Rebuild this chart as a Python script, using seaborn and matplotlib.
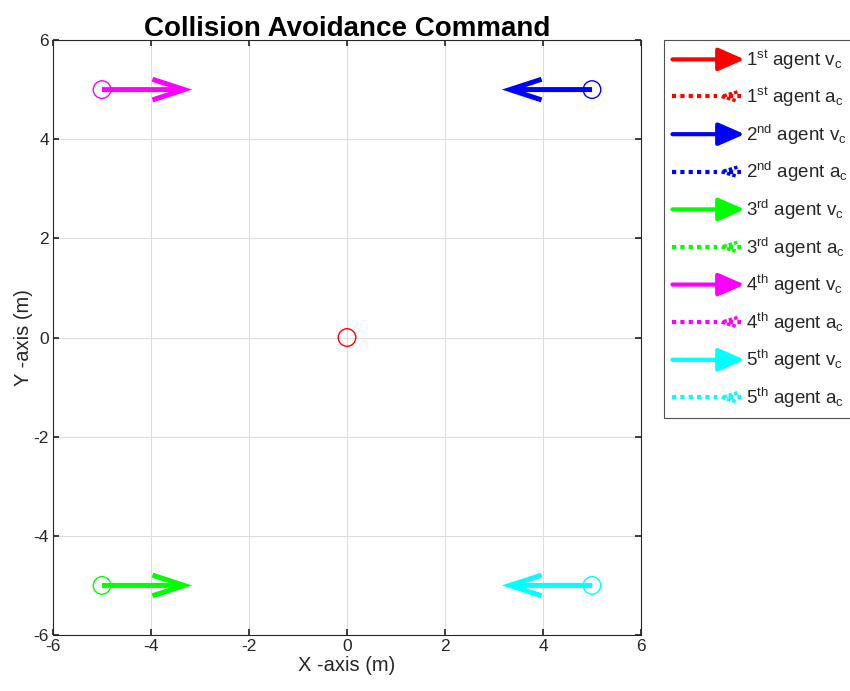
import matplotlib
matplotlib.use("Agg")
import matplotlib.pyplot as plt
import seaborn as sns
import pandas as pd
from matplotlib.lines import Line2D
from matplotlib.patches import FancyArrowPatch
from matplotlib.legend_handler import HandlerBase

# ---- data ----
agents = ["1st", "2nd", "3rd", "4th", "5th"]
ordinals = ["st", "nd", "rd", "th", "th"]
colors = ["#FF0000", "#0000FF", "#00FF00", "#FF00FF", "#00FFFF"]
pos_x = [0, 5, -5, -5, 5]
pos_y = [0, 5, -5, 5, -5]
vc_x = [0, -1.84, 1.84, 1.84, -1.84]
vc_y = [0, 0, 0, 0, 0]
ac_x = [0, 0, 0, 0, 0]
ac_y = [0, 0, 0, 0, 0]
ticks = [-6, -4, -2, 0, 2, 4, 6]

sns.set_theme(style="white")
plt.rcParams["font.family"] = ["Liberation Sans", "DejaVu Sans"]
plt.rcParams["mathtext.fontset"] = "custom"
plt.rcParams["mathtext.rm"] = "Liberation Sans"
plt.rcParams["mathtext.it"] = "Liberation Sans"

fig = plt.figure(figsize=(8.5, 6.91), dpi=100)
ax = fig.add_axes([53/850, 1-635/691, 588/850, 595/691])

df = pd.DataFrame({"x": pos_x, "y": pos_y, "agent": agents})
sns.scatterplot(data=df, x="x", y="y", hue="agent", palette=colors,
                marker="o", s=160, linewidth=1.0,
                legend=False, ax=ax, zorder=3)
coll = ax.collections[0]
coll.set_facecolor("none")
coll.set_edgecolors(colors)

for i in range(5):
    if vc_x[i] != 0 or vc_y[i] != 0:
        ax.annotate("", xy=(pos_x[i] + vc_x[i], pos_y[i] + vc_y[i]),
                    xytext=(pos_x[i], pos_y[i]),
                    arrowprops=dict(arrowstyle="->,head_length=1.9,head_width=0.62",
                                    color=colors[i], lw=3.6,
                                    shrinkA=0, shrinkB=0,
                                    joinstyle="miter", capstyle="butt"),
                    zorder=4)

ax.set_xlim(-6, 6)
ax.set_ylim(-6, 6)
ax.set_xticks(ticks)
ax.set_yticks(ticks)
ax.set_xticklabels([str(t) for t in ticks])
ax.set_yticklabels([str(t) for t in ticks])
ax.grid(True, color="#DDDDDD", linewidth=0.8)
ax.tick_params(direction="in", length=4, labelsize=12.5, color="#262626",
               labelcolor="#262626", top=True, right=True,
               bottom=True, left=True, pad=3)
for s in ax.spines.values():
    s.set_color("#262626")
    s.set_linewidth(0.8)
ax.set_xlabel("X -axis (m)", fontsize=14.5, color="#262626", labelpad=1)
ax.set_ylabel("Y -axis (m)", fontsize=14.5, color="#262626", labelpad=0)
ax.set_title("Collision Avoidance Command", fontsize=20, fontweight="bold",
             pad=3, color="black")


class HandlerArrow(HandlerBase):
    def create_artists(self, legend, orig_handle, xdescent, ydescent,
                       width, height, fontsize, trans):
        y = height / 2 - ydescent
        x0 = -xdescent
        x1 = x0 + width
        c = orig_handle.get_color()
        if orig_handle.get_linestyle() == "-":
            a = FancyArrowPatch((x0, y), (x1, y),
                                arrowstyle="-|>,head_length=1.6,head_width=0.7",
                                mutation_scale=10, color=c, lw=3,
                                shrinkA=0, shrinkB=0, transform=trans)
            return [a]
        else:
            ln = Line2D([x0, x0 + 0.62 * width], [y, y], color=c, lw=3,
                        linestyle=(0, (1, 1)), transform=trans)
            hx = x0 + 0.68 * width
            head = Line2D([hx + 0.22 * width, hx, hx + 0.22 * width],
                          [y + 0.35 * height, y, y - 0.35 * height],
                          color=c, lw=2.5, linestyle=(0, (1, 0.6)),
                          transform=trans)
            dot = Line2D([hx + 0.1 * width, x1 - 0.05 * width], [y, y],
                         color=c, lw=3, linestyle=(0, (1, 1)), transform=trans)
            return [ln, head, dot]


handles = []
labels = []
for i in range(5):
    handles.append(Line2D([], [], color=colors[i], linestyle="-"))
    labels.append(r"%d$^{\rm %s}$ agent v$_{\rm c}$" % (i + 1, ordinals[i]))
    handles.append(Line2D([], [], color=colors[i], linestyle=":"))
    labels.append(r"%d$^{\rm %s}$ agent a$_{\rm c}$" % (i + 1, ordinals[i]))

leg = fig.legend(handles, labels, handler_map={Line2D: HandlerArrow()},
                 loc="upper left", bbox_to_anchor=(664/850, 1-40/691),
                 bbox_transform=fig.transFigure, borderaxespad=0,
                 fontsize=13.5, handlelength=3.85, handletextpad=0.1,
                 labelspacing=0.72, frameon=True, fancybox=False,
                 borderpad=0.45)
leg.get_frame().set_edgecolor("#262626")
leg.get_frame().set_linewidth(0.8)

fig.savefig("out.png", dpi=100)
